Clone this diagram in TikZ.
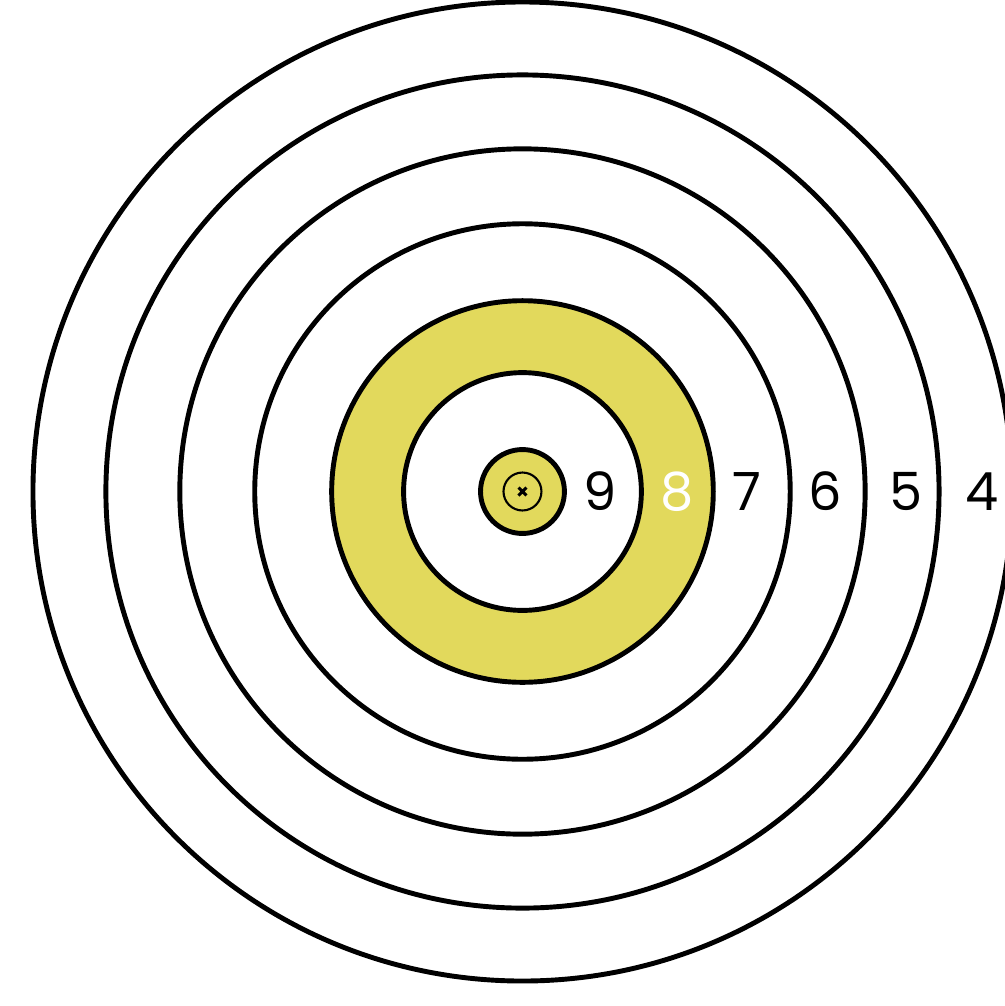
\documentclass[tikz,border=0pt]{standalone}
\usepackage{fontspec}
\setmainfont{Poppins}
\usepackage{tikz}
\definecolor{diana}{RGB}{226,217,92}

\tikzset{
    anell/.style={line width=2.8pt, black},
    xifra/.style={font=\fontsize{30}{30}\selectfont, inner sep=0pt}
}

\begin{document}
\begin{tikzpicture}[x=0.02cm, y=0.02cm]

    % Marges
    \useasboundingbox (-523,-515) rectangle (483,492);
    \clip (-523,-515) rectangle (483,492);

    % Anells exteriors
    \foreach \r in {490,417,343,268} {
        \draw[anell] (0,0) circle (\r);
    }

    % Anell groc
    \fill[diana, even odd rule] (0,0) circle (191) (0,0) circle (119);
    \draw[anell] (0,0) circle (191);
    \draw[anell] (0,0) circle (119);

    % Centre
    \draw[
        anell,
        fill=diana
    ] (0,0) circle (42);
    \draw[line width=1.2pt] (0,0) circle (19);
    \draw[line width=1.7pt] (-4,-4) -- (4,4) (-4,4) -- (4,-4);

    % Punts
    \node[xifra] (p9) at (78,0) {9};
    \node[xifra, white] (p8) at (155,0) {8};
    \node[xifra] (p7) at (225,0) {7};
    \node[xifra] (p6) at (303,0) {6};
    \node[xifra] (p5) at (384,0) {5};
    \node[xifra] (p4) at (460,0) {4};

\end{tikzpicture}
\end{document}
